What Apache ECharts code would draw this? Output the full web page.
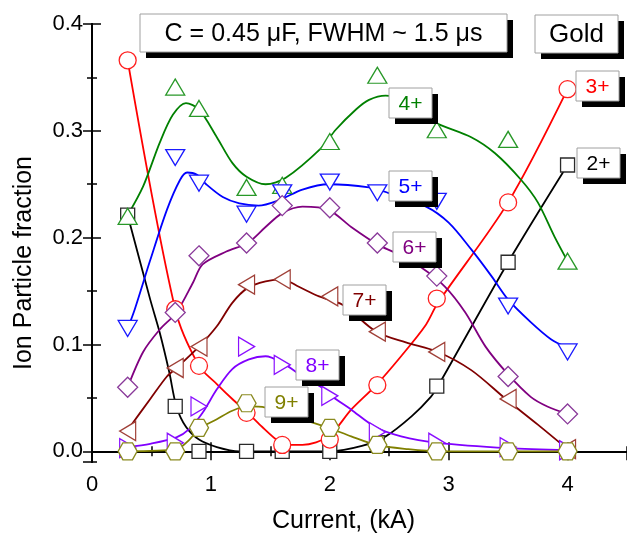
<!DOCTYPE html>
<html><head><meta charset="utf-8">
<script src="https://cdn.jsdelivr.net/npm/echarts@6/dist/echarts.min.js"></script>
<style>html,body{margin:0;padding:0;background:#fff}#c{width:627px;height:544px}</style>
</head><body><div id="c"></div>
<script>
// ---- measured data (current in kA, ion fractions) ----
const currents = [0.3, 0.7, 0.9, 1.3, 1.6, 2.0, 2.4, 2.9, 3.5, 4.0];
const frac2 = [0.221, 0.042, 0.000, 0.000, 0.000, 0.000, 0.008, 0.061, 0.177, 0.268];
const frac3 = [0.366, 0.133, 0.080, 0.036, 0.006, 0.011, 0.062, 0.143, 0.233, 0.339];
const frac4 = [0.220, 0.341, 0.321, 0.247, 0.249, 0.290, 0.352, 0.301, 0.292, 0.178];
const frac5 = [0.115, 0.275, 0.251, 0.222, 0.242, 0.252, 0.242, 0.234, 0.136, 0.093];
const frac6 = [0.060, 0.130, 0.183, 0.195, 0.230, 0.228, 0.195, 0.164, 0.070, 0.035];
const frac7 = [0.019, 0.078, 0.098, 0.156, 0.161, 0.145, 0.112, 0.093, 0.049, 0.002];
const frac8 = [0.003, 0.008, 0.042, 0.098, 0.081, 0.052, 0.018, 0.008, 0.004, 0.001];
const frac9 = [0.000, 0.000, 0.022, 0.045, null, 0.022, 0.006, 0.000, 0.000, 0.000];

// ---- fitted guide curves ----
const fitX2 = [0.3,0.49,0.57,0.65,0.71,0.79,0.9,1.05,1.24,2.0,2.27,2.47,2.69,2.85,2.91,3.5,4.0];
const fitY2 = [0.221,0.142,0.111,0.074,0.042,0.023,0.011,0.004,0.0,0.0,0.005,0.014,0.033,0.051,0.061,0.177,0.268];
const fitX3 = [0.3,0.7,0.9,1.05,1.18,1.31,1.43,1.55,1.63,1.77,1.99,2.18,2.39,2.6,2.8,2.91,3.5,4.0];
const fitY3 = [0.366,0.133,0.080,0.063,0.049,0.036,0.023,0.011,0.006,0.006,0.014,0.039,0.062,0.089,0.117,0.139,0.233,0.339];
const fitX4 = [0.3,0.43,0.57,0.68,0.79,0.9,1.05,1.18,1.3,1.46,1.63,1.93,2.05,2.22,2.33,2.47,2.9,3.19,3.39,3.61,3.75,3.89,4.0];
const fitY4 = [0.221,0.248,0.289,0.315,0.326,0.320,0.294,0.270,0.257,0.250,0.256,0.284,0.301,0.320,0.329,0.333,0.307,0.294,0.279,0.254,0.233,0.201,0.178];
const fitX5 = [0.3,0.36,0.49,0.63,0.74,0.8,0.88,0.96,1.1,1.24,1.4,1.57,1.77,1.99,2.33,2.49,2.81,3.0,3.19,3.36,3.5,3.69,3.86,4.0];
const fitY5 = [0.115,0.133,0.179,0.226,0.254,0.261,0.259,0.250,0.238,0.232,0.230,0.235,0.245,0.250,0.247,0.242,0.229,0.214,0.189,0.164,0.142,0.121,0.105,0.097];
const fitX6 = [0.3,0.43,0.57,0.71,0.85,0.93,1.13,1.31,1.46,1.6,1.77,1.99,2.18,2.41,2.55,2.77,2.97,3.14,3.31,3.5,3.69,3.83,4.0];
const fitY6 = [0.060,0.093,0.114,0.130,0.158,0.175,0.187,0.195,0.210,0.223,0.229,0.226,0.210,0.193,0.186,0.172,0.154,0.130,0.098,0.072,0.051,0.042,0.035];
const fitX7 = [0.3,0.49,0.63,0.71,0.9,1.05,1.18,1.31,1.46,1.6,1.74,1.91,2.11,2.39,2.64,2.91,3.19,3.48,3.75,4.0];
const fitY7 = [0.020,0.049,0.070,0.078,0.098,0.117,0.139,0.153,0.159,0.161,0.154,0.145,0.137,0.112,0.102,0.093,0.076,0.049,0.025,0.002];
const fitX8 = [0.3,0.49,0.71,0.82,0.93,1.05,1.18,1.32,1.46,1.6,1.72,1.93,2.0,2.18,2.38,2.6,2.91,3.5,4.0];
const fitY8 = [0.004,0.007,0.013,0.021,0.036,0.058,0.077,0.086,0.089,0.083,0.074,0.060,0.053,0.039,0.023,0.014,0.008,0.003,0.001];
const fitX9 = [0.3,0.71,0.82,0.9,1.05,1.18,1.31,1.46,1.65,1.85,1.99,2.18,2.39,2.66,2.91,3.5,4.0];
const fitY9 = [0.0,0.002,0.011,0.021,0.030,0.038,0.042,0.041,0.035,0.027,0.022,0.014,0.006,0.002,0.0,0.0,0.0];

const ionNames = ['2+','3+','4+','5+','6+','7+','8+','9+'];
const titleText = 'C = 0.45 \u03bcF, FWHM ~ 1.5 \u03bcs';
const materialText = 'Gold';
const xTitle = 'Current, (kA)';
const yTitle = 'Ion Particle fraction';

const FONT = '"Liberation Sans", Arial, Helvetica, sans-serif';
const HEX = 'path://M-1,0 L-0.5,-0.866 L0.5,-0.866 L1,0 L0.5,0.866 L-0.5,0.866 Z';

const ions = [
  {vals: frac2, fx: fitX2, fy: fitY2, line:'#000000', mark:'#2a2a2a', symbol:'rect', size:14, rot:0, lab:[4.26,0.270]},
  {vals: frac3, fx: fitX3, fy: fitY3, line:'#ff0000', mark:'#ff2020', symbol:'circle', size:17, rot:0, lab:[4.25,0.342]},
  {vals: frac4, fx: fitX4, fy: fitY4, line:'#008000', mark:'#289828', symbol:'triangle', size:[19,16], rot:0, lab:[2.68,0.326]},
  {vals: frac5, fx: fitX5, fy: fitY5, line:'#0000ff', mark:'#1a1aff', symbol:'triangle', size:[19,16], rot:180, lab:[2.68,0.248]},
  {vals: frac6, fx: fitX6, fy: fitY6, line:'#800080', mark:'#8a3a9a', symbol:'diamond', size:20, rot:0, lab:[2.71,0.191]},
  {vals: frac7, fx: fitX7, fy: fitY7, line:'#800000', mark:'#a04038', symbol:'triangle', size:[19,16], rot:90, lab:[2.29,0.142]},
  {vals: frac8, fx: fitX8, fy: fitY8, line:'#8000ff', mark:'#8a10ff', symbol:'triangle', size:[19,16], rot:-90, lab:[1.90,0.081]},
  {vals: frac9, fx: fitX9, fy: fitY9, line:'#808000', mark:'#8a8a20', symbol:HEX, size:[19,17], rot:0, lab:[1.64,0.046]}
];

const chart = echarts.init(document.getElementById('c'), null, {renderer:'canvas'});

const series = [];
ions.forEach((s, i) => {
  series.push({
    type:'line', name: ionNames[i] + ' fit', xAxisIndex:0, yAxisIndex:0,
    data: s.fx.map((x, k) => [x, s.fy[k]]),
    smooth: 0.3, showSymbol:false, symbol:'none', silent:true, z:2,
    lineStyle:{color:s.line, width:1.8}
  });
});
ions.forEach((s, i) => {
  series.push({
    type:'scatter', name: ionNames[i], xAxisIndex:0, yAxisIndex:0,
    data: currents.map((x, k) => s.vals[k] === null ? null : [x, s.vals[k]]).filter(d => d),
    symbol: s.symbol, symbolSize: s.size, symbolRotate: s.rot, clip:false, z:3 + i*0.01,
    itemStyle:{color:'#ffffff', borderColor:s.mark, borderWidth:1.3, opacity:1}
  });
});

const axLine = {show:true, lineStyle:{color:'#000', width:2}};
const noLabel = {show:false};
const majT = {show:true, inside:true, length:9, lineStyle:{color:'#000', width:1.5}};
const minT = {show:true, inside:true, length:5, lineStyle:{color:'#000', width:1.5}};

const option = {
  animation:false,
  backgroundColor:'#ffffff',
  grid:{left:92, right:-3, top:24, bottom:82, containLabel:false},
  xAxis:[
    {type:'value', position:'bottom', min:0, max:4.5, interval:1,
     axisLine:axLine, axisTick:majT, splitLine:{show:false},
     axisLabel:{show:true, margin:12, fontSize:22, color:'#000', fontFamily:FONT, showMaxLabel:false, formatter:v=>String(Math.round(v))},
     name:xTitle, nameLocation:'middle', nameGap:47,
     nameTextStyle:{fontSize:25, color:'#000', fontFamily:FONT, padding:[0,32,0,0]}},
    {type:'value', position:'bottom', min:0, max:4.5, interval:0.5,
     axisLine:{show:false}, axisTick:minT, axisLabel:noLabel, splitLine:{show:false}},
    {type:'value', position:'top', min:0, max:4.5, interval:1,
     axisLine:axLine, axisTick:majT, axisLabel:noLabel, splitLine:{show:false}},
    {type:'value', position:'top', min:0, max:4.5, interval:0.5,
     axisLine:{show:false}, axisTick:minT, axisLabel:noLabel, splitLine:{show:false}}
  ],
  yAxis:[
    {type:'value', position:'left', min:-0.01, max:0.4, splitNumber:4,
     axisLine:axLine, axisTick:majT, splitLine:{show:false},
     axisLabel:{show:true, margin:9, fontSize:22, color:'#000', fontFamily:FONT, showMinLabel:false,
       formatter:v=> (Math.abs(v) < 1e-9 ? '0.0' : v.toFixed(1))},
     name:yTitle, nameLocation:'middle', nameGap:55,
     nameTextStyle:{fontSize:25, color:'#000', fontFamily:FONT, padding:[0,40,0,0]}},
    {type:'value', position:'left', min:-0.01, max:0.4, splitNumber:8,
     axisLine:{show:false}, axisTick:minT, axisLabel:noLabel, splitLine:{show:false}},
    {type:'value', position:'right', min:-0.01, max:0.4, splitNumber:4,
     axisLine:axLine, axisTick:majT, axisLabel:noLabel, splitLine:{show:false}},
    {type:'value', position:'right', min:-0.01, max:0.4, splitNumber:8,
     axisLine:{show:false}, axisTick:minT, axisLabel:noLabel, splitLine:{show:false}}
  ],
  series: series
};
chart.setOption(option);

function shadowBox(x, y, w, h, text, color, fontSize) {
  return {type:'group', x:x, y:y, z:100, silent:true, children:[
    {type:'rect', z:100, shape:{x:6, y:6, width:w, height:h}, style:{fill:'#000'}},
    {type:'rect', z:101, shape:{x:0, y:0, width:w, height:h}, style:{fill:'#fff', stroke:'#a0a0a0', lineWidth:1}},
    {type:'text', z:102, x:w/2, y:h/2+1, style:{text:text, fill:color, fontSize:fontSize, fontFamily:FONT,
      align:'center', verticalAlign:'middle', textAlign:'center', textVerticalAlign:'middle'}}
  ]};
}

const graphics = [];
graphics.push(shadowBox(140, 14, 367, 38, titleText, '#000', 25));
graphics.push(shadowBox(535, 15, 83, 38, materialText, '#000', 26));
ions.forEach((s, i) => {
  const p = chart.convertToPixel({xAxisIndex:0, yAxisIndex:0}, s.lab);
  const w = 43, h = 30;
  graphics.push(shadowBox(Math.round(p[0]-w/2), Math.round(p[1]-h/2), w, h, ionNames[i], s.line, 21));
});
chart.setOption({graphic: graphics});
</script>
</body></html>
